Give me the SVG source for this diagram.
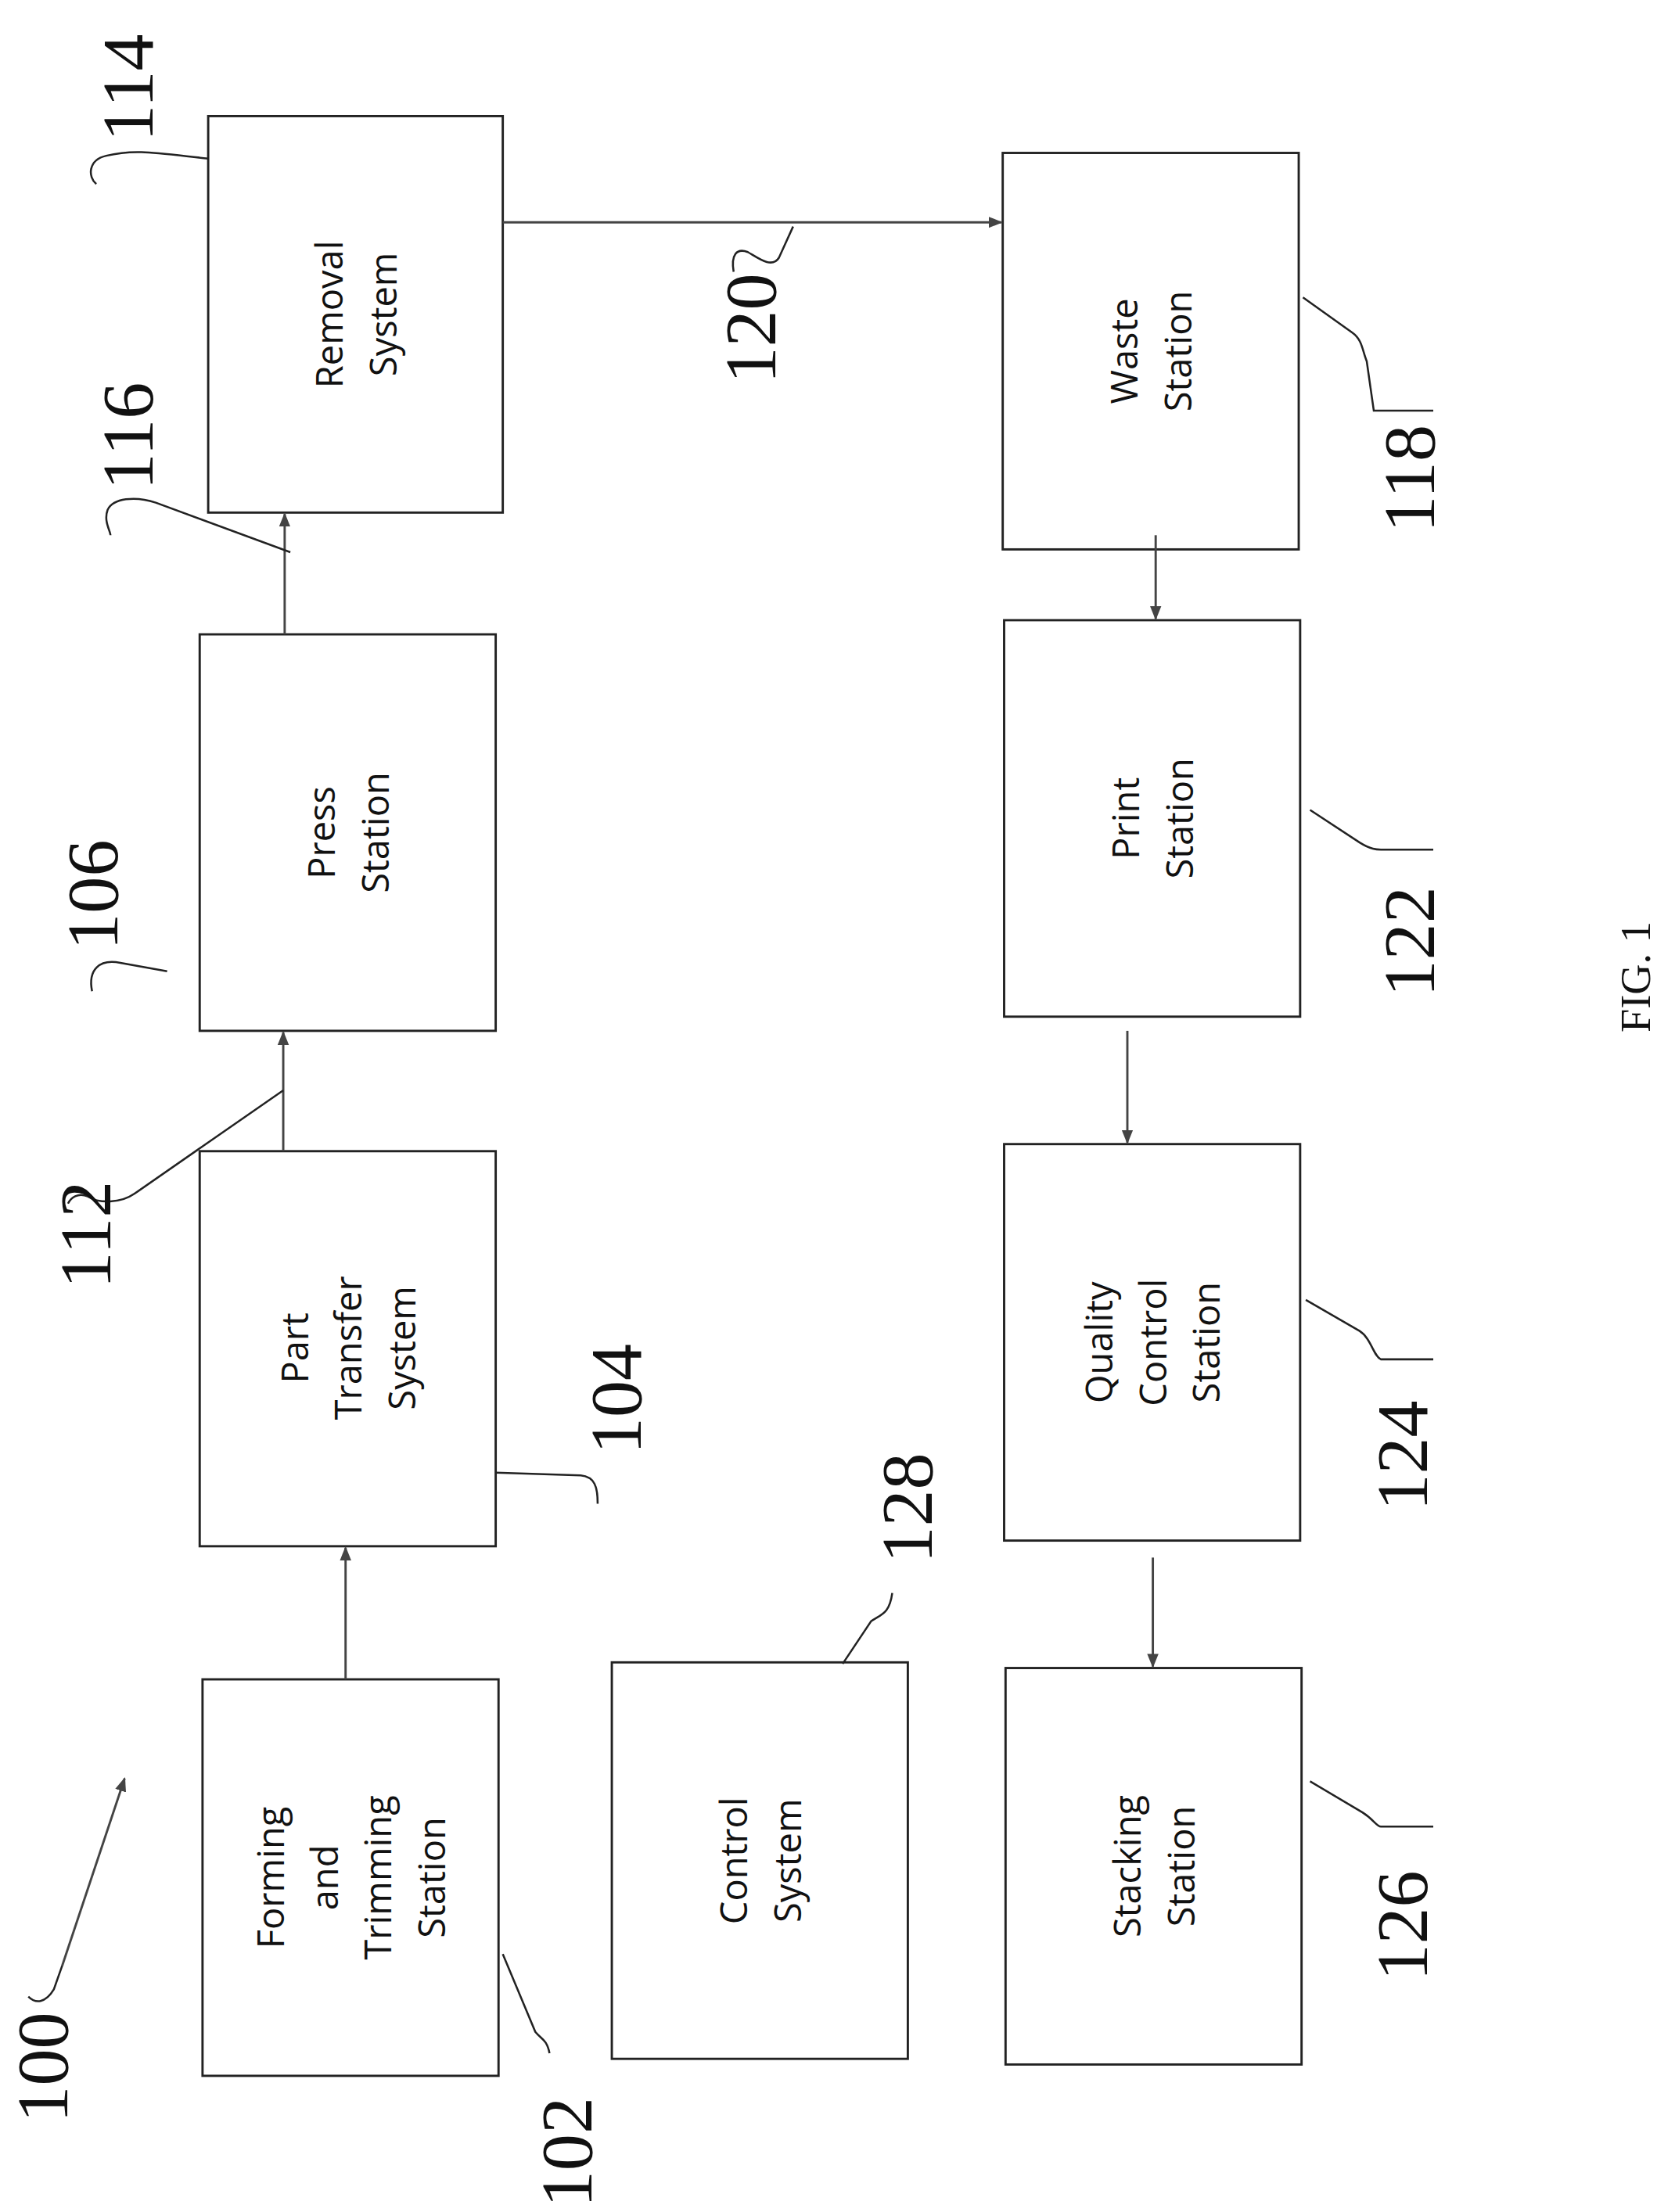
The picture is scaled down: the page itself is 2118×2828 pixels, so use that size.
<svg xmlns="http://www.w3.org/2000/svg" width="2118" height="2828" viewBox="0 0 2118 2828">
<style>
.b{fill:#fff;stroke:#222;stroke-width:1.6}
.t{font-family:"Open Sans","Liberation Sans",sans-serif;font-size:26px;fill:#111;text-anchor:middle;dominant-baseline:central}
.n{font-family:"Liberation Serif",serif;font-size:52px;fill:#111;text-anchor:middle;dominant-baseline:central}
.c{fill:none;stroke:#444;stroke-width:1.6}
.l{fill:none;stroke:#222;stroke-width:1.4}
</style>
<defs><marker id="a" markerWidth="10" markerHeight="10" refX="9" refY="5" orient="auto" markerUnits="userSpaceOnUse"><path d="M0,1 L10,5 L0,9 z" fill="#444"/></marker></defs>
<rect width="2118" height="2828" fill="#fff"/>
<g transform="scale(1.8103)">
<g id="n114"><rect class="b" x="147" y="82" width="208" height="280"/><text class="t" transform="translate(251,222) rotate(-90)"><tspan x="0" y="-19">Removal</tspan><tspan x="0" y="19">System</tspan></text></g>
<g id="n106"><rect class="b" x="141" y="448" width="209" height="280"/><text class="t" transform="translate(245.5,588) rotate(-90)"><tspan x="0" y="-19">Press</tspan><tspan x="0" y="19">Station</tspan></text></g>
<g id="n104"><rect class="b" x="141" y="813" width="209" height="279"/><text class="t" transform="translate(245.5,952) rotate(-90)"><tspan x="0" y="-38">Part</tspan><tspan x="0" y="0">Transfer</tspan><tspan x="0" y="38">System</tspan></text></g>
<g id="n102"><rect class="b" x="143" y="1186" width="209" height="280"/><text class="t" transform="translate(247.5,1326) rotate(-90)"><tspan x="0" y="-57">Forming</tspan><tspan x="0" y="-19">and</tspan><tspan x="0" y="19">Trimming</tspan><tspan x="0" y="57">Station</tspan></text></g>
<g id="n128"><rect class="b" x="432" y="1174" width="209" height="280"/><text class="t" transform="translate(536.5,1314) rotate(-90)"><tspan x="0" y="-19">Control</tspan><tspan x="0" y="19">System</tspan></text></g>
<g id="n118"><rect class="b" x="708" y="108" width="209" height="280"/><text class="t" transform="translate(812.5,248) rotate(-90)"><tspan x="0" y="-19">Waste</tspan><tspan x="0" y="19">Station</tspan></text></g>
<g id="n122"><rect class="b" x="709" y="438" width="209" height="280"/><text class="t" transform="translate(813.5,578) rotate(-90)"><tspan x="0" y="-19">Print</tspan><tspan x="0" y="19">Station</tspan></text></g>
<g id="n124"><rect class="b" x="709" y="808" width="209" height="280"/><text class="t" transform="translate(813.5,948) rotate(-90)"><tspan x="0" y="-38">Quality</tspan><tspan x="0" y="0">Control</tspan><tspan x="0" y="38">Station</tspan></text></g>
<g id="n126"><rect class="b" x="710" y="1178" width="209" height="280"/><text class="t" transform="translate(814.5,1318) rotate(-90)"><tspan x="0" y="-19">Stacking</tspan><tspan x="0" y="19">Station</tspan></text></g>
<g id="connectors">
<line class="c" x1="244" y1="1186" x2="244" y2="1093" marker-end="url(#a)"/>
<line class="c" x1="200" y1="813" x2="200" y2="729" marker-end="url(#a)"/>
<line class="c" x1="201" y1="448" x2="201" y2="363" marker-end="url(#a)"/>
<line class="c" x1="355" y1="157" x2="707" y2="157" marker-end="url(#a)"/>
<line class="c" x1="816" y1="378" x2="816" y2="437" marker-end="url(#a)"/>
<line class="c" x1="796" y1="728" x2="796" y2="807" marker-end="url(#a)"/>
<line class="c" x1="814" y1="1100" x2="814" y2="1177" marker-end="url(#a)"/>
<path class="c" d="M44,1388 L88,1256" marker-end="url(#a)"/>
</g>
<g id="labels">
<path class="l" d="M147,112 C110,108 95,105 75,110 C62,113 62,125 68,130"/><text class="n" transform="translate(90,62) rotate(-90)">114</text>
<path class="l" d="M205,390 L110,355 C95,350 80,352 76,360 C73,368 78,375 78,378"/><text class="n" transform="translate(90,308) rotate(-90)">116</text>
<path class="l" d="M118,686 L85,680 C70,677 62,685 65,700"/><text class="n" transform="translate(65,632) rotate(-90)">106</text>
<path class="l" d="M200,770 L95,843 C85,850 70,850 62,845 C55,842 50,846 48,850"/><text class="n" transform="translate(60,872) rotate(-90)">112</text>
<path class="l" d="M350,1040 L410,1042 C420,1043 422,1050 422,1062"/><text class="n" transform="translate(435,988) rotate(-90)">104</text>
<path class="l" d="M595,1175 L615,1145 C622,1140 628,1140 630,1125"/><text class="n" transform="translate(640,1065) rotate(-90)">128</text>
<path class="l" d="M355,1380 L378,1435 C382,1440 386,1440 388,1450"/><text class="n" transform="translate(400,1520) rotate(-90)">102</text>
<path class="l" d="M44,1388 L38,1405 C32,1415 25,1415 20,1410"/><text class="n" transform="translate(30,1460) rotate(-90)">100</text>
<path class="l" d="M560,160 L550,182 C545,190 535,182 528,178 C520,175 516,180 518,192"/><text class="n" transform="translate(530,232) rotate(-90)">120</text>
<path class="l" d="M920,210 L955,235 C962,240 962,248 965,255 L970,290 L1012,290"/><text class="n" transform="translate(995,338) rotate(-90)">118</text>
<path class="l" d="M925,572 L960,595 C968,600 972,600 975,600 L1012,600"/><text class="n" transform="translate(995,665) rotate(-90)">122</text>
<path class="l" d="M922,918 L960,940 C968,945 970,958 975,960 L1012,960"/><text class="n" transform="translate(990,1028) rotate(-90)">124</text>
<path class="l" d="M925,1258 L962,1280 C970,1285 972,1290 975,1290 L1012,1290"/><text class="n" transform="translate(990,1360) rotate(-90)">126</text>
<text class="n" style="font-size:30px" transform="translate(1155,690) rotate(-90)">FIG. 1</text>
</g>
</g>
</svg>
